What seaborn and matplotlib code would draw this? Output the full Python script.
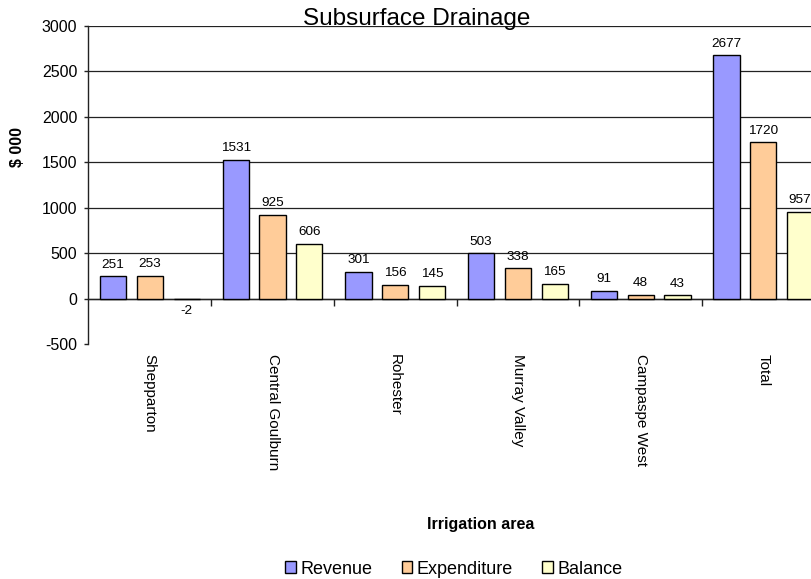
import matplotlib
matplotlib.use("Agg")
import matplotlib.pyplot as plt
import seaborn as sns
import pandas as pd
import numpy as np

areas = ["Shepparton", "Central Goulburn", "Rohester", "Murray Valley", "Campaspe West", "Total"]
revenue = [251, 1531, 301, 503, 91, 2677]
expenditure = [253, 925, 156, 338, 48, 1720]
balance = [-2, 606, 145, 165, 43, 957]
series = ["Revenue", "Expenditure", "Balance"]
colors = ["#9999FF", "#FFCC99", "#FFFFCC"]
y_ticks = [-500, 0, 500, 1000, 1500, 2000, 2500, 3000]

sns.set_theme(style="white")
plt.rcParams["font.family"] = ["Liberation Sans", "DejaVu Sans"]
for k in ["text.color", "axes.labelcolor", "xtick.color", "ytick.color"]:
    plt.rcParams[k] = "black"

df = pd.DataFrame({
    "area": areas * 3,
    "series": [series[0]] * 6 + [series[1]] * 6 + [series[2]] * 6,
    "value": revenue + expenditure + balance,
})

fig = plt.figure(figsize=(8.12, 5.79), dpi=100)
W, H = 812, 579
left, right, top, bottom = 88.5, 824.7, 26, 344.5
ax = fig.add_axes([left / W, 1 - bottom / H, (right - left) / W, (bottom - top) / H])

sns.barplot(data=df, x="area", y="value", hue="series", hue_order=series,
            order=areas, palette=colors, saturation=1, width=0.9, gap=0.29,
            edgecolor="black", linewidth=1, errorbar=None, ax=ax)

handles, labels = ax.get_legend_handles_labels()
if ax.get_legend() is not None:
    ax.get_legend().remove()

for cont in ax.containers:
    ax.bar_label(cont, fmt="%d", padding=4, fontsize=9.7, color="black")

ax.set_ylim(-500, 3000)
ax.set_xlim(-0.5, len(areas) - 0.5)
ax.set_yticks(y_ticks)
ax.set_yticklabels([str(v) for v in y_ticks], fontsize=11.5)
ax.yaxis.grid(True, color="#222222", linewidth=0.9)
ax.xaxis.grid(False)
ax.set_axisbelow(True)
for sp in ["top", "right", "bottom"]:
    ax.spines[sp].set_visible(False)
ax.spines["left"].set_color("#222222")
ax.spines["left"].set_linewidth(1)
ax.tick_params(axis="y", which="major", direction="out", length=3, width=1,
               color="#222222", pad=5, left=True)
ax.tick_params(axis="x", length=0, pad=7)
ax.set_xticks(range(len(areas)))
ax.set_xticklabels(areas, rotation=270, ha="center", va="top", fontsize=11)
ax.set_xlabel("")
ax.set_ylabel("")

# no gridline at the bottom (-500) level
gl = ax.yaxis.get_gridlines()
gl[0].set_visible(False)

# zero category axis with boundary ticks
zero_pos = (0 - (-500)) / (3000 - (-500))
sec = ax.secondary_xaxis(zero_pos)
sec.set_xticks(np.arange(len(areas)) + 0.5)
sec.set_xticklabels([])
sec.tick_params(direction="out", length=5, width=1, color="#222222")
sec.spines["bottom"].set_color("#222222")
sec.spines["bottom"].set_linewidth(1)

fig.text(417 / W, 1 - 19 / H, "Subsurface Drainage", ha="center", va="center", fontsize=17.5)
fig.text(17.5 / W, 1 - 147.5 / H, "$ 000", rotation=90, ha="center", va="center",
         fontsize=11.5, fontweight="bold")
fig.text(481 / W, 1 - 525 / H, "Irrigation area", ha="center", va="center",
         fontsize=11.5, fontweight="bold")

leg = fig.legend(handles, labels, loc="center", bbox_to_anchor=(454 / W, 1 - 569 / H),
                 ncol=3, frameon=False, fontsize=13, handlelength=0.6, handleheight=0.6,
                 handletextpad=0.25, columnspacing=1.6, borderaxespad=0, borderpad=0)

fig.savefig("out.png", dpi=100)
